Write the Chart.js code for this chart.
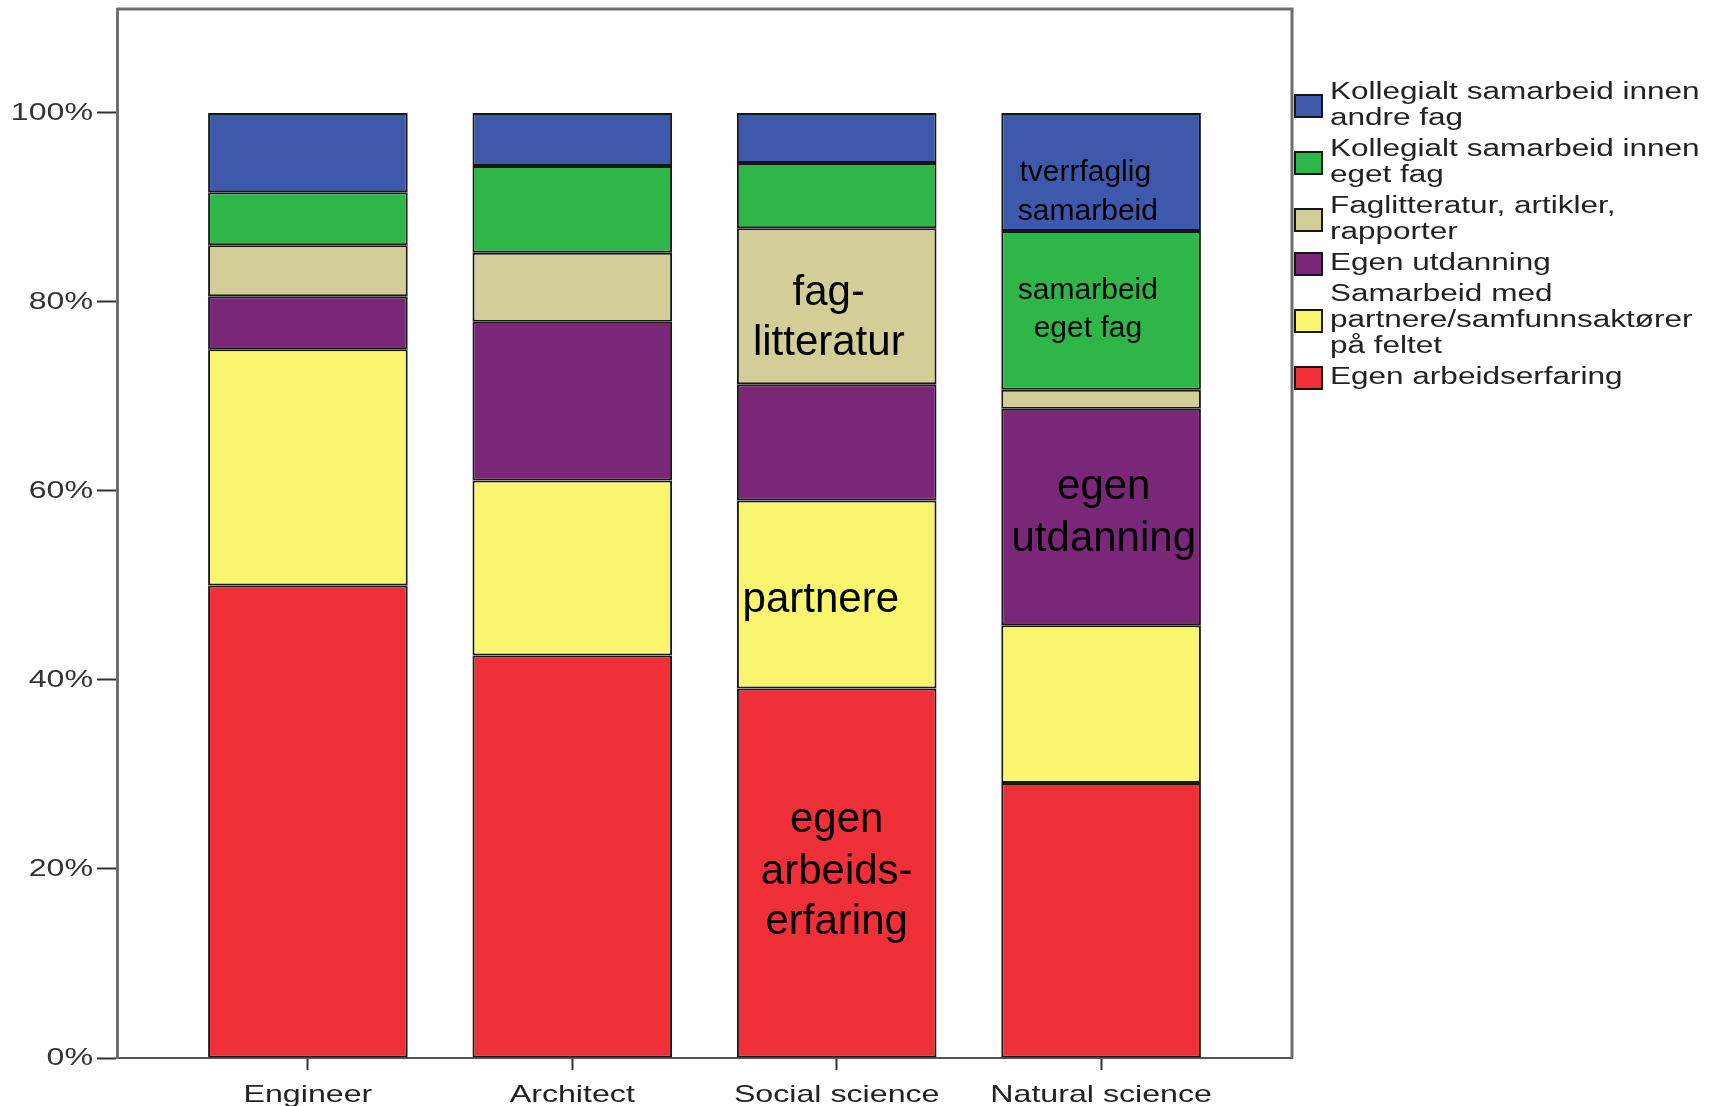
<!DOCTYPE html>
<html>
<head>
<meta charset="utf-8">
<script src="https://cdn.jsdelivr.net/npm/chart.js@4/dist/chart.umd.min.js"></script>
<style>
  body { margin: 0; background: #fff; }
  .canvas-container { width: 1721px; height: 1106px; }
</style>
</head>
<body>
<div class="canvas-container">
  <canvas id="chart" width="1721" height="1106"></canvas>
</div>
<script>
const categories = ["Engineer", "Architect", "Social science", "Natural science"];

// stack order bottom -> top, values in percent
const egenArbeidserfaring = [50.0, 42.6, 39.1, 29.1];
const samarbeidPartnere = [25.0, 18.5, 19.9, 16.7];
const egenUtdanning = [5.6, 16.8, 12.3, 22.9];
const faglitteratur = [5.4, 7.3, 16.5, 2.0];
const kollegialtEgetFag = [5.6, 9.2, 6.9, 16.8];
const kollegialtAndreFag = [8.4, 5.6, 5.3, 12.5];

const yTickValues = [0, 20, 40, 60, 80, 100];

const seriesNames = [
  ["Egen arbeidserfaring"],
  ["Samarbeid med", "partnere/samfunnsaktører", "på feltet"],
  ["Egen utdanning"],
  ["Faglitteratur, artikler,", "rapporter"],
  ["Kollegialt samarbeid innen", "eget fag"],
  ["Kollegialt samarbeid innen", "andre fag"],
];
const seriesValues = [
  egenArbeidserfaring,
  samarbeidPartnere,
  egenUtdanning,
  faglitteratur,
  kollegialtEgetFag,
  kollegialtAndreFag,
];
const seriesColors = ["#ef3039", "#f9f56e", "#7b2779", "#d3ce97", "#2eb748", "#3e58ab"];

// text written inside the bars: category index, value on y axis, text, font size
const annotations = [
  { cat: 1.97, y: 80.9, text: "fag-", size: 42 },
  { cat: 1.97, y: 75.6, text: "litteratur", size: 42 },
  { cat: 1.94, y: 48.4, text: "partnere", size: 42 },
  { cat: 2.0, y: 25.1, text: "egen", size: 42 },
  { cat: 2.0, y: 19.6, text: "arbeids-", size: 42 },
  { cat: 2.0, y: 14.3, text: "erfaring", size: 42 },
  { cat: 2.94, y: 93.7, text: "tverrfaglig", size: 30 },
  { cat: 2.95, y: 89.6, text: "samarbeid", size: 30 },
  { cat: 2.95, y: 81.2, text: "samarbeid", size: 30 },
  { cat: 2.95, y: 77.2, text: "eget fag", size: 30 },
  { cat: 3.01, y: 60.4, text: "egen", size: 42 },
  { cat: 3.01, y: 54.9, text: "utdanning", size: 42 },
];

const FONT = "'Liberation Sans', Arial, sans-serif";
// the SPSS export is stretched sideways, so axis and legend text is too
const STRETCH = 1.34;

const datasets = seriesValues.map((vals, i) => ({
  label: seriesNames[i],
  data: vals.map((v, j) => ({ x: j, y: v })),
  backgroundColor: seriesColors[i],
  borderColor: "#161616",
  borderWidth: 2,
  borderSkipped: false,
  barPercentage: 0.755,
  categoryPercentage: 1,
}));

function stretchedText(ctx, text, x, y, align, sx) {
  ctx.save();
  ctx.translate(x, y);
  ctx.scale(sx, 1);
  ctx.textAlign = align;
  ctx.fillText(text, 0, 0);
  ctx.restore();
}

const framePlugin = {
  id: "frame",
  afterDraw(chart) {
    const ctx = chart.ctx;
    const a = chart.chartArea;
    ctx.save();
    ctx.strokeStyle = "#6e6e6e";
    ctx.lineWidth = 3;
    ctx.beginPath();
    ctx.moveTo(a.left, a.top);
    ctx.lineTo(a.right, a.top);
    ctx.lineTo(a.right, a.bottom);
    ctx.stroke();
    ctx.restore();
  },
};

// axis labels drawn by hand so they can be stretched
const axisLabelPlugin = {
  id: "axisLabels",
  afterDraw(chart) {
    const ctx = chart.ctx;
    const xs = chart.scales.x;
    const ys = chart.scales.y;
    ctx.save();
    ctx.font = "24px " + FONT;
    ctx.fillStyle = "#333";
    ctx.textBaseline = "middle";
    yTickValues.forEach((v) => {
      stretchedText(ctx, v + "%", ys.right - 24, ys.getPixelForValue(v), "right", STRETCH);
    });
    ctx.fillStyle = "#222";
    ctx.textBaseline = "alphabetic";
    categories.forEach((c, i) => {
      stretchedText(ctx, c, xs.getPixelForValue(i), xs.top + 44, "center", STRETCH);
    });
    ctx.restore();
  },
};

const annotationPlugin = {
  id: "annotations",
  afterDraw(chart) {
    const ctx = chart.ctx;
    const xs = chart.scales.x;
    const ys = chart.scales.y;
    ctx.save();
    ctx.fillStyle = "#000";
    ctx.textAlign = "center";
    ctx.textBaseline = "middle";
    annotations.forEach((a) => {
      ctx.font = a.size + "px " + FONT;
      ctx.fillText(a.text, xs.getPixelForValue(a.cat), ys.getPixelForValue(a.y));
    });
    ctx.restore();
  },
};

const legendPlugin = {
  id: "sideLegend",
  afterDraw(chart) {
    const ctx = chart.ctx;
    const a = chart.chartArea;
    const lineH = 26;
    const gap = 31;
    let y = 93;
    ctx.save();
    ctx.font = "23px " + FONT;
    ctx.textBaseline = "middle";
    for (let i = chart.data.datasets.length - 1; i >= 0; i--) {
      const ds = chart.data.datasets[i];
      const lines = ds.label;
      const mid = y + ((lines.length - 1) * lineH) / 2;
      ctx.fillStyle = ds.backgroundColor;
      ctx.fillRect(a.right + 3, mid - 11, 27, 22);
      ctx.strokeStyle = "#161616";
      ctx.lineWidth = 2;
      ctx.strokeRect(a.right + 3, mid - 11, 27, 22);
      ctx.fillStyle = "#222";
      lines.forEach((t, k) => stretchedText(ctx, t, a.right + 38, y + k * lineH, "left", 1.37));
      y += (lines.length - 1) * lineH + gap;
    }
    ctx.restore();
  },
};

new Chart(document.getElementById("chart"), {
  type: "bar",
  data: { datasets: datasets },
  options: {
    responsive: false,
    animation: false,
    layout: { padding: { top: 9, right: 429, left: 0, bottom: 0 } },
    plugins: {
      legend: { display: false },
      tooltip: { enabled: false },
    },
    scales: {
      x: {
        type: "linear",
        stacked: true,
        offset: false,
        min: -0.722,
        max: 3.722,
        afterFit(scale) {
          scale.height = 48;
          scale.paddingLeft = 0;
          scale.paddingRight = 0;
        },
        afterBuildTicks(scale) {
          scale.ticks = categories.map((c, i) => ({ value: i }));
        },
        ticks: {
          stepSize: 1,
          includeBounds: false,
          maxRotation: 0,
          autoSkip: false,
          color: "rgba(0,0,0,0)",
          font: { family: FONT, size: 24 },
          callback: (v) => categories[v],
        },
        grid: {
          offset: false,
          drawOnChartArea: false,
          tickLength: 12,
          tickWidth: 2,
          tickColor: "#333",
        },
        border: { color: "#555", width: 2 },
      },
      y: {
        stacked: true,
        min: 0,
        max: 111,
        afterFit(scale) {
          scale.width = 117;
          scale.paddingTop = 0;
          scale.paddingBottom = 0;
        },
        afterBuildTicks(scale) {
          scale.ticks = yTickValues.map((v) => ({ value: v }));
        },
        ticks: {
          stepSize: 20,
          includeBounds: false,
          color: "rgba(0,0,0,0)",
          font: { family: FONT, size: 24 },
          callback: (v) => v + "%",
        },
        grid: {
          drawOnChartArea: false,
          tickLength: 20,
          tickWidth: 2,
          tickColor: "#333",
        },
        border: { color: "#6e6e6e", width: 3 },
      },
    },
  },
  plugins: [framePlugin, axisLabelPlugin, annotationPlugin, legendPlugin],
});
</script>
</body>
</html>
